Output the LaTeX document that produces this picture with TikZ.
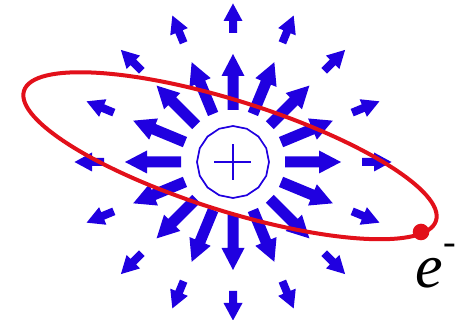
\documentclass[tikz,border=0pt]{standalone}
\usepackage{fontspec}
\newfontfamily\timesf{Liberation Serif}
\definecolor{fieldblue}{RGB}{32,0,224}
\definecolor{orbitred}{RGB}{226,16,26}
\tikzset{
  fieldarrow/.style={fill=fieldblue},
  nucleus/.style={draw=fieldblue, line width=1.7pt, line join=round},
  orbit/.style={draw=orbitred, line width=4pt},
  electron/.style={fill=orbitred},
  elabel/.style={anchor=base west, inner sep=0pt, font=\timesf\fontsize{62}{62}\selectfont}
}
\begin{document}
\begin{tikzpicture}[x=1pt,y=1pt]
\useasboundingbox (0,0) rectangle (457,320);
% field arrows
\foreach \a in {0,22.5,...,337.5} {
  \fill[fieldarrow, shift={(233,158)}, rotate=\a]
    (52,-5.5) -- (86,-5.5) -- (86,-11.5) -- (108,0) -- (86,11.5) -- (86,5.5) -- (52,5.5) -- cycle;
  \fill[fieldarrow, shift={(233,158)}, rotate=\a]
    (129,-4) -- (141,-4) -- (141,-9.5) -- (158.5,0) -- (141,9.5) -- (141,4) -- (129,4) -- cycle;
}
% nucleus
\draw[nucleus] (233+36,158)
  \foreach \k in {1,...,15} { -- ({233+36*cos(\k*22.5)},{158+36*sin(\k*22.5)}) } -- cycle;
\draw[nucleus] (214,158) -- (251,158);
\draw[nucleus] (233,140) -- (233,176);
% orbit
\draw[orbit, rotate around={-17.5:(230,164.25)}] (230,164.25) ellipse [x radius=216, y radius=55];
\fill[electron] (421,88) circle (8.3);
\node[elabel] (elec) at (415.5,32) {\textit{e}\raisebox{33pt}{\fontsize{38}{38}\selectfont -}};
\end{tikzpicture}
\end{document}
